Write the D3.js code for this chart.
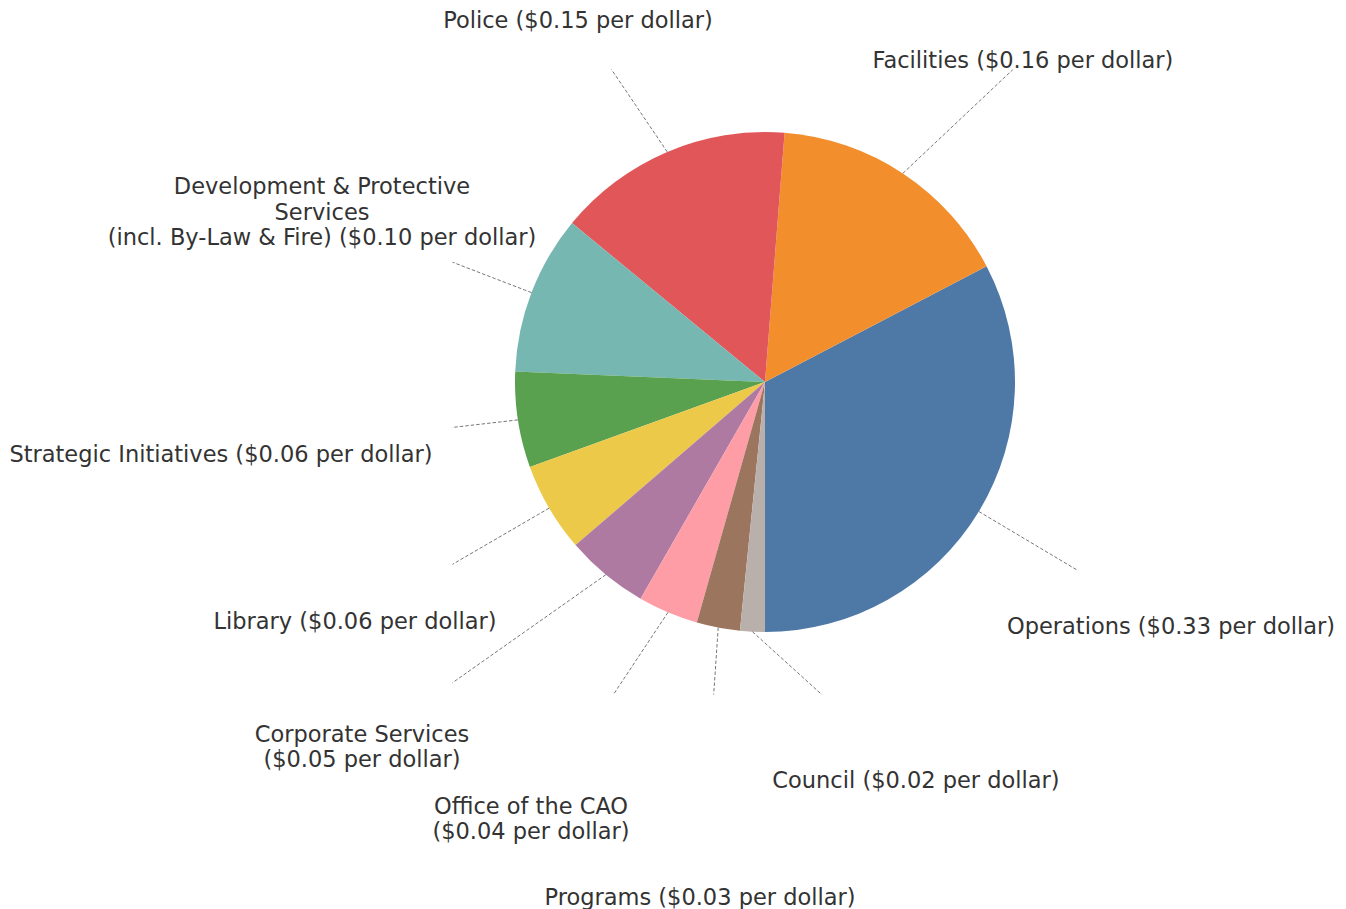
<!DOCTYPE html>
<html>
<head>
<meta charset="utf-8">
<script src="https://cdn.jsdelivr.net/npm/d3@7"></script>
<style>
  body { margin: 0; background: #fff; }
  svg { display: block; }
</style>
</head>
<body>
<svg id="chart" width="1346" height="909"></svg>
<script>
// Share of each tax dollar by department (order as drawn, counter-clockwise from the bottom)
const categories = [
  "Operations", "Facilities", "Police", "Development & Protective Services",
  "Strategic Initiatives", "Library", "Corporate Services", "Office of the CAO",
  "Programs", "Council"
];
const shares = [0.327, 0.161, 0.153, 0.103, 0.062, 0.058, 0.054, 0.039, 0.028, 0.016];

// Label text, one entry per line
const labelLines = [
  ["Operations ($0.33 per dollar)"],
  ["Facilities ($0.16 per dollar)"],
  ["Police ($0.15 per dollar)"],
  ["Development & Protective", "Services", "(incl. By-Law & Fire) ($0.10 per dollar)"],
  ["Strategic Initiatives ($0.06 per dollar)"],
  ["Library ($0.06 per dollar)"],
  ["Corporate Services", "($0.05 per dollar)"],
  ["Office of the CAO", "($0.04 per dollar)"],
  ["Programs ($0.03 per dollar)"],
  ["Council ($0.02 per dollar)"]
];

// Label block centres, in pie radii from the centre (layout only)
const labelOffsets = [
  [1.624, 0.976], [1.032, -1.288], [-0.748, -1.448], [-1.772, -0.68],
  [-2.176, 0.288], [-1.64, 0.956], [-1.612, 1.458], [-0.936, 1.746],
  [-0.26, 2.06], [0.604, 1.592]
];

const colors = d3.schemeTableau10;

const svg = d3.select("#chart");
const cx = 765, cy = 382;
const R = 250;
const box = R * 1.25; // leader lines are clipped to the square plot area

const data = categories.map((name, i) => ({ name, value: shares[i], lines: labelLines[i], off: labelOffsets[i], i }));

// start at 6 o'clock and go counter-clockwise
const pie = d3.pie()
  .value(d => d.value)
  .sort(null)
  .startAngle(Math.PI)
  .endAngle(-Math.PI);

const arc = d3.arc().innerRadius(0).outerRadius(R);
const arcs = pie(data);

svg.append("defs").append("clipPath")
  .attr("id", "plotArea")
  .append("rect")
  .attr("x", -box).attr("y", -box)
  .attr("width", box * 2).attr("height", box * 2);

const g = svg.append("g").attr("transform", `translate(${cx},${cy})`);

g.selectAll("path.slice")
  .data(arcs)
  .enter().append("path")
  .attr("class", "slice")
  .attr("d", arc)
  .attr("fill", d => colors[d.data.i]);

// Leader lines: from the wedge edge at its mid angle toward the label
g.append("g")
  .attr("clip-path", "url(#plotArea)")
  .selectAll("line")
  .data(arcs)
  .enter().append("line")
  .attr("x1", d => R * Math.sin((d.startAngle + d.endAngle) / 2))
  .attr("y1", d => -R * Math.cos((d.startAngle + d.endAngle) / 2))
  .attr("x2", d => d.data.off[0] * R)
  .attr("y2", d => d.data.off[1] * R)
  .attr("stroke", "#777777")
  .attr("stroke-width", 1)
  .attr("stroke-dasharray", "3.5,2");

const fontSize = 22.5;
const lineHeight = 25.5;

const labels = g.selectAll("text.label")
  .data(arcs)
  .enter().append("text")
  .attr("class", "label")
  .attr("text-anchor", "middle")
  .attr("font-family", "DejaVu Sans, sans-serif")
  .attr("font-size", fontSize)
  .attr("fill", "#333333");

labels.each(function(d) {
  const lines = d.data.lines;
  const x = d.data.off[0] * R;
  const y = d.data.off[1] * R;
  d3.select(this).selectAll("tspan")
    .data(lines)
    .enter().append("tspan")
    .attr("x", x)
    .attr("y", (t, k) => y + (k - (lines.length - 1) / 2) * lineHeight + 0.35 * fontSize)
    .text(t => t);
});
</script>
</body>
</html>
